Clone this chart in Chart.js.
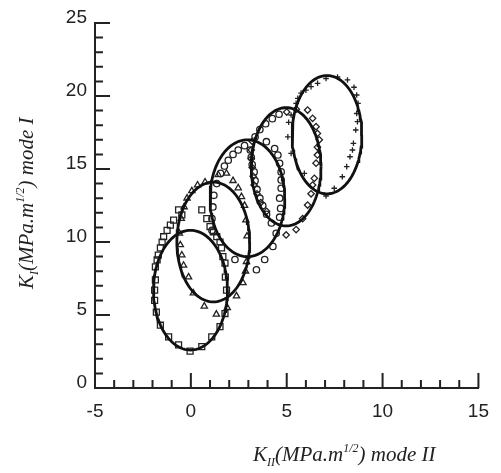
<!DOCTYPE html>
<html>
<head>
<meta charset="utf-8">
<script src="https://cdn.jsdelivr.net/npm/chart.js@4.4.0/dist/chart.umd.min.js"></script>
<style>
  html, body { margin: 0; padding: 0; background: #fff; }
  #wrap { width: 501px; height: 473px; position: relative; }
</style>
</head>
<body>
<div id="wrap"><canvas id="grafico"></canvas></div>
<script>
// limites dos eixos
const X_MIN = -5, X_MAX = 15, Y_MIN = 0, Y_MAX = 25;

// pontos (KII, KI)
const quadrados = [
    [-0.64, 12.2], [0.57, 12.2], [-0.47, 11.85], [-0.9, 11.5], [0.83, 11.6], [-1.07, 11.16],
    [1.0, 11.05], [-1.24, 10.8], [1.17, 10.7], [-1.42, 10.36], [1.35, 10.36], [-1.5, 10.0],
    [1.52, 10.0], [-1.59, 9.6], [1.6, 9.6], [-1.7, 9.1], [1.67, 9.0], [-1.76, 8.77],
    [1.78, 8.56], [-1.85, 8.3], [-1.85, 7.4], [-1.89, 6.7], [-1.89, 6.0], [-1.8, 5.2],
    [-1.59, 4.3], [-1.16, 3.5], [-0.64, 2.95], [-0.04, 2.53], [0.57, 2.83], [1.09, 3.5],
    [1.52, 4.2], [1.78, 5.1], [1.86, 6.7], [1.8, 7.6]
];
const triangulos = [
    [-0.55, 9.8], [-0.47, 9.1], [-0.38, 8.4], [-0.12, 7.6], [0.13, 6.5], [0.7, 5.6],
    [1.33, 5.05], [1.9, 5.5], [2.38, 6.3], [2.72, 7.2], [2.85, 8.0], [2.9, 8.65],
    [2.93, 10.4], [2.87, 11.5], [2.8, 12.5], [2.64, 13.1], [2.47, 13.7], [2.2, 14.2],
    [1.86, 14.7], [1.43, 14.6], [0.74, 14.1], [0.35, 13.9], [0.05, 13.5], [-0.2, 13.0],
    [-0.35, 12.4], [-0.5, 11.6], [-0.6, 10.6]
];
const circulos = [
    [1.1, 10.8], [1.1, 11.6], [1.15, 12.4], [1.2, 13.2], [1.35, 14.0], [1.55, 14.7],
    [1.75, 15.2], [1.95, 15.6], [2.2, 16.0], [2.47, 16.3], [2.8, 16.6],
    [3.94, 16.87], [4.37, 16.4], [4.54, 15.96], [4.63, 15.39], [4.71, 14.8], [4.71, 14.25],
    [4.71, 13.68], [4.63, 13.0], [4.68, 12.3], [4.63, 11.7],
    [3.1, 16.3], [3.15, 15.8], [3.2, 15.3], [3.3, 14.8], [3.35, 14.2], [3.45, 13.6],
    [3.6, 13.0], [3.75, 12.5], [3.95, 11.9], [4.2, 11.3],
    [4.45, 10.6], [4.28, 9.7], [3.85, 8.8], [3.42, 8.1], [2.3, 8.8],
    [3.35, 17.2], [3.6, 17.7], [3.9, 18.1], [4.25, 18.45], [4.6, 18.75]
];
const losangos = [
    [5.0, 18.9], [5.5, 19.1], [6.09, 19.04], [6.35, 18.47], [6.53, 17.9], [6.6, 17.44],
    [6.7, 17.0], [6.6, 16.5], [6.6, 15.96], [6.53, 15.4], [6.44, 14.36], [6.35, 13.9],
    [6.27, 13.3], [6.09, 12.53], [5.83, 11.6], [5.49, 10.85], [4.97, 10.48],
    [3.2, 16.9], [3.15, 16.3], [3.15, 15.7], [3.2, 15.1], [3.25, 14.5], [3.3, 13.9],
    [3.45, 13.3], [3.65, 12.7], [3.95, 12.1]
];
const cruzes = [
    [5.49, 19.5], [5.58, 19.84], [5.75, 20.2], [6.0, 20.4], [6.27, 20.64], [6.61, 20.87],
    [7.05, 21.2], [7.65, 21.3], [8.17, 21.1], [8.51, 20.6], [8.65, 20.07], [8.72, 19.5],
    [8.65, 18.8], [8.69, 18.24], [8.6, 17.67], [8.48, 16.76], [8.43, 16.3], [8.3, 15.84],
    [8.13, 15.16], [7.9, 14.47], [7.48, 13.68], [7.05, 13.15], [5.92, 14.7], [5.23, 16.07],
    [5.06, 17.2], [5.1, 18.2], [5.23, 18.7]
];

// elipses ajustadas: centro e semi-eixos
const elipseCx = [-0.02, 1.17, 2.95, 4.97, 7.1];
const elipseCy = [6.7, 10.0, 13.0, 15.15, 17.35];
const elipseRx = [1.93, 1.9, 1.95, 1.82, 1.82];
const elipseRy = [4.1, 4.1, 4.0, 4.05, 4.05];

// titulos dos eixos (n = normal, sub = indice, sup = expoente)
const tituloX = [['K', 'n'], ['II', 'sub'], ['(MPa.m', 'n'], ['1/2', 'sup'], [') mode II', 'n']];
const tituloY = [['K', 'n'], ['I', 'sub'], ['(MPa.m', 'n'], ['1/2', 'sup'], [') mode I', 'n']];

function pontosElipse(i) {
    const pts = [];
    const n = 120;
    for (let k = 0; k <= n; k++) {
        const t = 2 * Math.PI * k / n;
        pts.push({x: elipseCx[i] + elipseRx[i] * Math.cos(t), y: elipseCy[i] + elipseRy[i] * Math.sin(t)});
    }
    return pts;
}

function serie(pares, estilo, raio) {
    return {
        data: pares.map(p => ({x: p[0], y: p[1]})),
        pointStyle: estilo,
        pointRadius: raio,
        pointBorderWidth: 1.3,
        borderColor: '#222',
        backgroundColor: 'rgba(255,255,255,0)',
        showLine: false
    };
}

function escreverRico(ctx, partes, x, y) {
    let cx = x;
    partes.forEach(([txt, tipo]) => {
        let dy = 0;
        if (tipo === 'n') ctx.font = 'italic 21px "Liberation Serif"';
        else ctx.font = 'italic 12px "Liberation Serif"';
        if (tipo === 'sub') dy = 5;
        if (tipo === 'sup') dy = -9;
        ctx.fillText(txt, cx, y + dy);
        cx += ctx.measureText(txt).width;
    });
}

const eixosPlugin = {
    id: 'eixos',
    afterDraw(chart) {
        const ctx = chart.ctx;
        const xs = chart.scales.x, ys = chart.scales.y;
        const area = chart.chartArea;
        ctx.save();
        ctx.strokeStyle = '#222';
        ctx.lineWidth = 2;
        ctx.beginPath();
        for (let v = X_MIN + 1; v <= X_MAX; v++) {
            const px = xs.getPixelForValue(v);
            const len = v % 5 === 0 ? 15 : 8;
            ctx.moveTo(px, area.bottom);
            ctx.lineTo(px, area.bottom - len);
        }
        for (let v = Y_MIN + 1; v <= Y_MAX; v++) {
            const py = ys.getPixelForValue(v);
            const len = v % 5 === 0 ? 15 : 8;
            ctx.moveTo(area.left, py);
            ctx.lineTo(area.left + len, py);
        }
        ctx.stroke();

        ctx.fillStyle = '#222';
        ctx.textBaseline = 'alphabetic';
        ctx.textAlign = 'left';
        escreverRico(ctx, tituloX, 253, 461);

        ctx.translate(33, 289);
        ctx.rotate(-Math.PI / 2);
        escreverRico(ctx, tituloY, 0, 0);
        ctx.restore();
    }
};

const datasets = [];
for (let i = 0; i < elipseCx.length; i++) {
    datasets.push({
        type: 'line',
        data: pontosElipse(i),
        borderColor: '#111',
        borderWidth: 2.8,
        pointRadius: 0,
        fill: false,
        tension: 0
    });
}
datasets.push(serie(quadrados, 'rect', 4.2));
datasets.push(serie(triangulos, 'triangle', 3.6));
datasets.push(serie(circulos, 'circle', 3.2));
datasets.push(serie(losangos, 'rectRot', 3.2));
datasets.push(serie(cruzes, 'cross', 2.8));

const fonteTicks = {family: '"Liberation Sans", Arial, sans-serif', size: 19};

new Chart(document.getElementById('grafico'), {
    type: 'scatter',
    data: {datasets: datasets},
    options: {
        responsive: true,
        maintainAspectRatio: false,
        animation: false,
        layout: {padding: {top: 23, right: 20, left: 0, bottom: 0}},
        plugins: {legend: {display: false}, tooltip: {enabled: false}},
        scales: {
            x: {
                type: 'linear',
                min: X_MIN,
                max: X_MAX,
                ticks: {stepSize: 5, color: '#222', font: fonteTicks, padding: 12, maxRotation: 0},
                grid: {display: true, drawOnChartArea: false, drawTicks: false},
                border: {display: true, color: '#222', width: 2},
                afterFit: s => { s.height = 85; }
            },
            y: {
                type: 'linear',
                min: Y_MIN,
                max: Y_MAX,
                ticks: {stepSize: 5, color: '#222', font: fonteTicks, padding: 8, labelOffset: -5},
                grid: {display: true, drawOnChartArea: false, drawTicks: false},
                border: {display: true, color: '#222', width: 2},
                afterFit: s => { s.width = 95; }
            }
        }
    },
    plugins: [eixosPlugin]
});
</script>
</body>
</html>
